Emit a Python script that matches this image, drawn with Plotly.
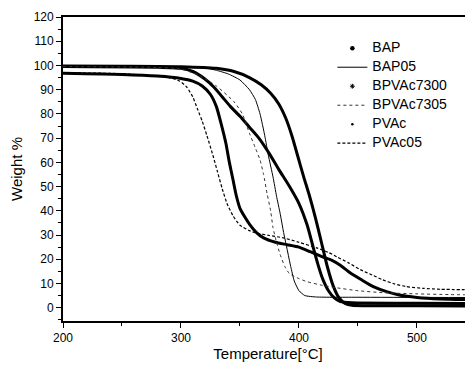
import plotly.graph_objects as go

# ---- data ----
bap_t = [200, 250, 300, 330, 345, 358, 368, 376, 383, 389, 394, 399, 404, 409, 414, 419, 424, 429, 434, 439, 445, 500, 547]
bap_w = [99.8, 99.7, 99.5, 98.8, 97.5, 95, 92, 88.5, 84, 78, 71, 62.5, 54, 46, 37, 27, 17, 9, 4, 1.8, 1.0, 0.8, 0.7]

bap05_t = [200, 300, 320, 330, 340, 350, 358, 363, 367, 371, 374, 378, 381, 384, 387, 390, 393, 396, 400, 405, 415, 450, 547]
bap05_w = [99.7, 99.5, 99, 98, 96.5, 94, 90, 86, 80, 71, 63, 54, 46, 39, 31, 24, 17, 11, 7, 5, 4.4, 4.3, 4.2]

bpvac7300_t = [200, 280, 300, 310, 320, 328, 335, 342, 350, 358, 366, 375, 383, 392, 400, 407, 412, 416, 420, 425, 430, 435, 445, 500, 547]
bpvac7300_w = [99.6, 99.3, 98.8, 97.5, 94.5, 91, 87, 83, 79, 74.5, 70, 63.5, 57, 50, 43, 34, 25, 18, 12, 7, 4, 2.5, 2.0, 1.8, 1.7]

bpvac7305_t = [200, 280, 300, 315, 330, 345, 352, 358, 363, 367, 370, 373, 376, 378, 381, 384, 388, 392, 400, 407, 420, 432, 450, 471, 500, 528, 547]
bpvac7305_w = [99.5, 99.2, 98.5, 96, 91.5, 85, 80, 72, 66, 61, 55, 47, 40, 33, 27, 22, 17, 14, 12, 10.7, 9.2, 8.2, 7, 6.2, 5.7, 5.4, 5.3]

pvac_t = [200, 250, 280, 300, 310, 318, 325, 330, 334, 338, 341, 344, 347, 350, 354, 358, 364, 370, 380, 390, 400, 410, 420, 428, 435, 443, 453, 463, 475, 485, 500, 520, 547]
pvac_w = [96.8, 96.3, 95.6, 94.6, 93.5, 91.5, 88, 83, 76, 68, 60, 53, 46, 41, 37.5, 34.5, 31, 28.8, 27, 26, 25, 23, 21, 19.5, 17.5, 14.5, 11.5, 8.7, 6.5, 5.2, 4.2, 3.6, 3.3]

pvac05_t = [200, 250, 280, 290, 299, 305, 310, 314, 318, 322, 327, 331, 335, 339, 344, 350, 358, 364, 375, 386, 400, 415, 425, 432, 442, 452, 462, 471, 481, 491, 505, 520, 547]
pvac05_w = [97, 96.6, 95.5, 95, 93.5, 91, 87, 82, 77, 71, 63, 56, 49, 43, 38, 34, 31.8, 30.8, 29.8, 28.9, 27, 24.7, 22.8, 21, 18.5, 15.7, 13.5, 11.5, 9.8, 8.7, 8, 7.6, 7.4]

y_ticks = list(range(0, 121, 10))
x_ticks = [200, 300, 400, 500]

LEG = '<span style="font-size:14px">%s</span>'

fig = go.Figure()

def thick(t, w):
    fig.add_trace(go.Scatter(x=t, y=w, mode="lines", showlegend=False,
                             line=dict(color="black", width=3, shape="spline", smoothing=0.6)))

def legend_marker(name, symbol, size, rank, lw=0):
    fig.add_trace(go.Scatter(x=[None], y=[None], mode="markers", name=LEG % name,
                             legendrank=rank,
                             marker=dict(color="black", size=size, symbol=symbol,
                                         line=dict(color="black", width=lw))))

thick(bap_t, bap_w)
thick(bpvac7300_t, bpvac7300_w)
thick(pvac_t, pvac_w)

fig.add_trace(go.Scatter(x=bap05_t, y=bap05_w, mode="lines", name=LEG % "BAP05", legendrank=2,
                         line=dict(color="black", width=1, shape="spline", smoothing=0.5)))
fig.add_trace(go.Scatter(x=bpvac7305_t, y=bpvac7305_w, mode="lines", name=LEG % "BPVAc7305", legendrank=4,
                         line=dict(color="#333333", width=1, dash="dot", shape="spline", smoothing=0.5)))
fig.add_trace(go.Scatter(x=pvac05_t, y=pvac05_w, mode="lines", name=LEG % "PVAc05", legendrank=6,
                         line=dict(color="black", width=1.2, dash="3px,2px", shape="spline", smoothing=0.5)))

legend_marker("BAP", "circle", 4.5, 1)
legend_marker("BPVAc7300", "asterisk-open", 4, 3, lw=1)
legend_marker("PVAc", "circle", 2.5, 5)

# The page body adds an 8px offset; the figure is sized to fill the window exactly.
fig.update_layout(
    width=465, height=358,
    margin=dict(l=55, r=0, t=9, b=45),
    paper_bgcolor="white", plot_bgcolor="white",
    font=dict(family="Liberation Sans, Arial, sans-serif", color="black", size=12),
    legend=dict(x=0.657, xanchor="left", y=0.945, yanchor="top",
                bgcolor="rgba(0,0,0,0)", font=dict(size=10),
                itemwidth=30, tracegroupgap=0),
    showlegend=True,
)

fig.update_xaxes(
    range=[200, 547.5], tickvals=x_ticks, ticktext=[str(v) for v in x_ticks],
    ticks="outside", ticklen=5, tickwidth=1.2, tickcolor="black",
    minor=dict(dtick=50, tick0=200, ticks="outside", ticklen=3, tickcolor="black"),
    showline=True, linecolor="black", linewidth=1.8, mirror=True,
    showgrid=False, zeroline=False,
    title=dict(text="Temperature[°C]", font=dict(size=15), standoff=4),
    tickfont=dict(size=12),
)
fig.update_yaxes(
    range=[-5.5, 120], tickvals=y_ticks, ticktext=[str(v) for v in y_ticks],
    ticks="outside", ticklen=5, tickwidth=1.2, tickcolor="black",
    minor=dict(dtick=5, tick0=0, ticks="outside", ticklen=3, tickcolor="black"),
    showline=True, linecolor="black", linewidth=1.8, mirror=False,
    showgrid=False, zeroline=False,
    title=dict(text="Weight %", font=dict(size=15), standoff=10),
    tickfont=dict(size=12),
)

fig.write_html("out.html")
